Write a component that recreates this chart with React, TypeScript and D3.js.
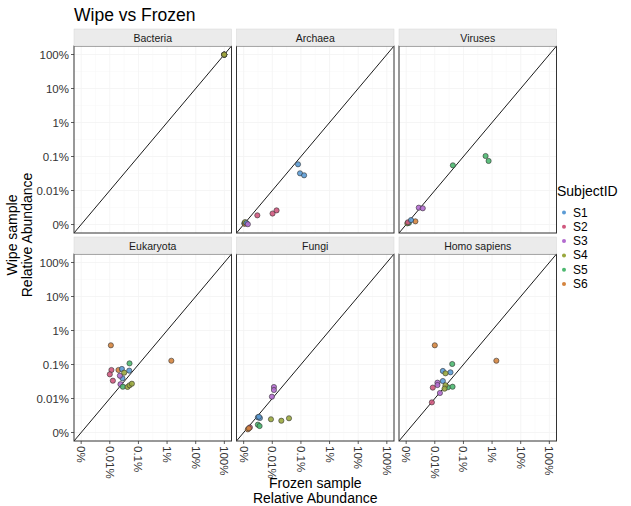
import React from "react";
import * as d3 from "d3";

// ---- data (values in percent: frozen, wipe) ----
const panels = ["Bacteria", "Archaea", "Viruses", "Eukaryota", "Fungi", "Homo sapiens"];
const subjectColors: Record<string, string> = {
  S1: "#5B9BD5",
  S2: "#D0587E",
  S3: "#B36BCF",
  S4: "#9AA83E",
  S5: "#4DB870",
  S6: "#D4843E",
};
const tickValues = [0.001, 0.01, 0.1, 1, 10, 100];
const tickLabels = ["0%", "0.01%", "0.1%", "1%", "10%", "100%"];

type Pt = [string, number, number];

const bacteria: Pt[] = [
  ["S1", 99.2, 99.0], ["S2", 99.4, 99.3], ["S3", 99.1, 99.2],
  ["S5", 99.3, 99.1], ["S6", 99.0, 99.4], ["S4", 99.2, 99.2],
];
const archaea: Pt[] = [
  ["S5", 0.00105, 0.00108], ["S6", 0.0011, 0.00105], ["S4", 0.00112, 0.00118],
  ["S1", 0.00125, 0.0011], ["S3", 0.0014, 0.00102],
  ["S2", 0.003, 0.00186], ["S2", 0.0102, 0.0021], ["S2", 0.0141, 0.0026],
  ["S1", 0.079, 0.059], ["S1", 0.093, 0.032], ["S1", 0.129, 0.028],
];
const viruses: Pt[] = [
  ["S4", 0.0011, 0.00108], ["S5", 0.00125, 0.00112], ["S2", 0.00115, 0.00116],
  ["S6", 0.0021, 0.00124], ["S1", 0.00148, 0.00135],
  ["S3", 0.00276, 0.00312], ["S3", 0.0038, 0.003],
  ["S5", 0.0428, 0.055], ["S5", 0.594, 0.1035], ["S5", 0.757, 0.074],
];
const eukaryota: Pt[] = [
  ["S6", 0.0109, 0.367], ["S6", 1.41, 0.129], ["S6", 0.0201, 0.069],
  ["S2", 0.0114, 0.069], ["S2", 0.01, 0.0515], ["S2", 0.0128, 0.0334],
  ["S1", 0.0264, 0.074], ["S1", 0.0477, 0.066], ["S1", 0.0277, 0.0393],
  ["S3", 0.0225, 0.0468], ["S3", 0.0236, 0.0263],
  ["S5", 0.0488, 0.108], ["S5", 0.0286, 0.0222],
  ["S4", 0.0318, 0.0575], ["S4", 0.0417, 0.0219], ["S4", 0.049, 0.0245], ["S4", 0.059, 0.0272],
];
const fungi: Pt[] = [
  ["S3", 0.0114, 0.0218], ["S3", 0.0114, 0.0178], ["S3", 0.0097, 0.0113],
  ["S1", 0.00314, 0.0028], ["S1", 0.0037, 0.00267], ["S1", 0.0034, 0.0029],
  ["S5", 0.00314, 0.0017], ["S5", 0.0036, 0.00155],
  ["S4", 0.00897, 0.00245], ["S4", 0.0207, 0.00222], ["S4", 0.0383, 0.00262],
  ["S6", 0.0014, 0.00124], ["S2", 0.00165, 0.00141], ["S6", 0.00152, 0.00133],
];
const homo: Pt[] = [
  ["S6", 0.01, 0.367], ["S6", 1.41, 0.129],
  ["S5", 0.0406, 0.1035], ["S5", 0.0286, 0.0214], ["S5", 0.0417, 0.0222],
  ["S1", 0.0191, 0.0645], ["S1", 0.0353, 0.0589], ["S1", 0.0191, 0.0327],
  ["S4", 0.0236, 0.055], ["S4", 0.0236, 0.0245], ["S4", 0.0219, 0.0195],
  ["S3", 0.0124, 0.0292], ["S3", 0.0124, 0.0249], ["S3", 0.0151, 0.0145],
  ["S2", 0.0085, 0.0209], ["S2", 0.0079, 0.0077],
];
const panelData: Pt[][] = [bacteria, archaea, viruses, eukaryota, fungi, homo];
const legendOrder = ["S1", "S2", "S3", "S4", "S5", "S6"];

// ---- layout ----
const W = 631, H = 506;
const colLeft = [74, 236.5, 399];
const panelW = 157.5;
const rowTop = [46, 254];
const panelH = 187;
const stripH = 17;
const font = "Liberation Sans, Arial, Helvetica, sans-serif";

const expand = 0.25; // decades
const dom: [number, number] = [0.001 / Math.pow(10, expand), 100 * Math.pow(10, expand)];

function Panel({ idx }: { idx: number }) {
  const col = idx % 3, row = Math.floor(idx / 3);
  const x0 = colLeft[col], y0 = rowTop[row];
  const xs = d3.scaleLog().domain(dom).range([x0, x0 + panelW]);
  const ys = d3.scaleLog().domain(dom).range([y0 + panelH, y0]);
  const minor = tickValues.slice(0, -1).map((v) => v * Math.sqrt(10));
  const pts = panelData[idx];
  const clipId = `clip${idx}`;
  return (
    <g>
      <clipPath id={clipId}>
        <rect x={x0} y={y0} width={panelW} height={panelH} />
      </clipPath>
      <rect x={x0} y={y0} width={panelW} height={panelH} fill="#fff" />
      {minor.map((v, i) => (
        <g key={"m" + i}>
          <line x1={xs(v)} x2={xs(v)} y1={y0} y2={y0 + panelH} stroke="#F8F8F8" strokeWidth={0.6} />
          <line x1={x0} x2={x0 + panelW} y1={ys(v)} y2={ys(v)} stroke="#F8F8F8" strokeWidth={0.6} />
        </g>
      ))}
      {tickValues.map((v, i) => (
        <g key={"g" + i}>
          <line x1={xs(v)} x2={xs(v)} y1={y0} y2={y0 + panelH} stroke="#F2F2F2" strokeWidth={0.8} />
          <line x1={x0} x2={x0 + panelW} y1={ys(v)} y2={ys(v)} stroke="#F2F2F2" strokeWidth={0.8} />
        </g>
      ))}
      <g clipPath={`url(#${clipId})`}>
        <line x1={xs(dom[0])} y1={ys(dom[0])} x2={xs(dom[1])} y2={ys(dom[1])} stroke="#000" strokeWidth={0.9} />
        {pts.map((p, i) => (
          <circle
            key={i}
            cx={xs(p[1])}
            cy={ys(p[2])}
            r={2.6}
            fill={subjectColors[p[0]]}
            fillOpacity={0.9}
            stroke="#333"
            strokeWidth={0.6}
          />
        ))}
      </g>
      <rect x={x0} y={y0} width={panelW} height={panelH} fill="none" stroke="#333" strokeWidth={1} />
      {/* strip */}
      <rect x={x0} y={y0 - stripH} width={panelW} height={stripH} fill="#EBEBEB" stroke="#D6D6D6" strokeWidth={0.5} />
      <text x={x0 + panelW / 2} y={y0 - stripH / 2} textAnchor="middle" dominantBaseline="central" fontSize={10.5} fill="#1A1A1A" fontFamily={font}>
        {panels[idx]}
      </text>
      {/* y axis */}
      {col === 0 &&
        tickValues.map((v, i) => (
          <g key={"yt" + i}>
            <line x1={x0 - 3} x2={x0} y1={ys(v)} y2={ys(v)} stroke="#333" strokeWidth={0.8} />
            <text x={x0 - 5} y={ys(v)} textAnchor="end" dominantBaseline="central" fontSize={11.5} fill="#333" fontFamily={font}>
              {tickLabels[i]}
            </text>
          </g>
        ))}
      {/* x axis */}
      {row === 1 &&
        tickValues.map((v, i) => (
          <g key={"xt" + i}>
            <line x1={xs(v)} x2={xs(v)} y1={y0 + panelH} y2={y0 + panelH + 3} stroke="#333" strokeWidth={0.8} />
            <text
              transform={`translate(${xs(v)},${y0 + panelH + 5}) rotate(90)`}
              textAnchor="start"
              dominantBaseline="central"
              fontSize={11.5}
              fill="#333"
              fontFamily={font}
            >
              {tickLabels[i]}
            </text>
          </g>
        ))}
    </g>
  );
}

export default function App() {
  const cx = (colLeft[0] + colLeft[2] + panelW) / 2;
  const cy = (rowTop[0] - stripH + rowTop[1] + panelH) / 2;
  return (
    <svg width={W} height={H} style={{ display: "block", position: "absolute", left: 0, top: 0 }}>
      <rect width={W} height={H} fill="#fff" />
      <text x={74} y={21} fontSize={17.5} fill="#000" fontFamily={font}>
        Wipe vs Frozen
      </text>
      {panels.map((_, i) => (
        <Panel key={i} idx={i} />
      ))}
      <text x={cx} y={488} textAnchor="middle" fontSize={14} fill="#000" fontFamily={font}>
        Frozen sample
      </text>
      <text x={cx} y={503} textAnchor="middle" fontSize={14} fill="#000" fontFamily={font}>
        Relative Abundance
      </text>
      <g transform={`translate(17,${cy}) rotate(-90)`}>
        <text x={0} y={0} textAnchor="middle" fontSize={14} fill="#000" fontFamily={font}>
          Wipe sample
        </text>
        <text x={0} y={15} textAnchor="middle" fontSize={14} fill="#000" fontFamily={font}>
          Relative Abundance
        </text>
      </g>
      <text x={557} y={196} fontSize={14} fill="#000" fontFamily={font}>
        SubjectID
      </text>
      {legendOrder.map((s, i) => (
        <g key={s}>
          <circle cx={564} cy={212.5 + i * 14.3} r={2} fill={subjectColors[s]} />
          <text x={573} y={212.5 + i * 14.3} dominantBaseline="central" fontSize={12} fill="#000" fontFamily={font}>
            {s}
          </text>
        </g>
      ))}
    </svg>
  );
}
